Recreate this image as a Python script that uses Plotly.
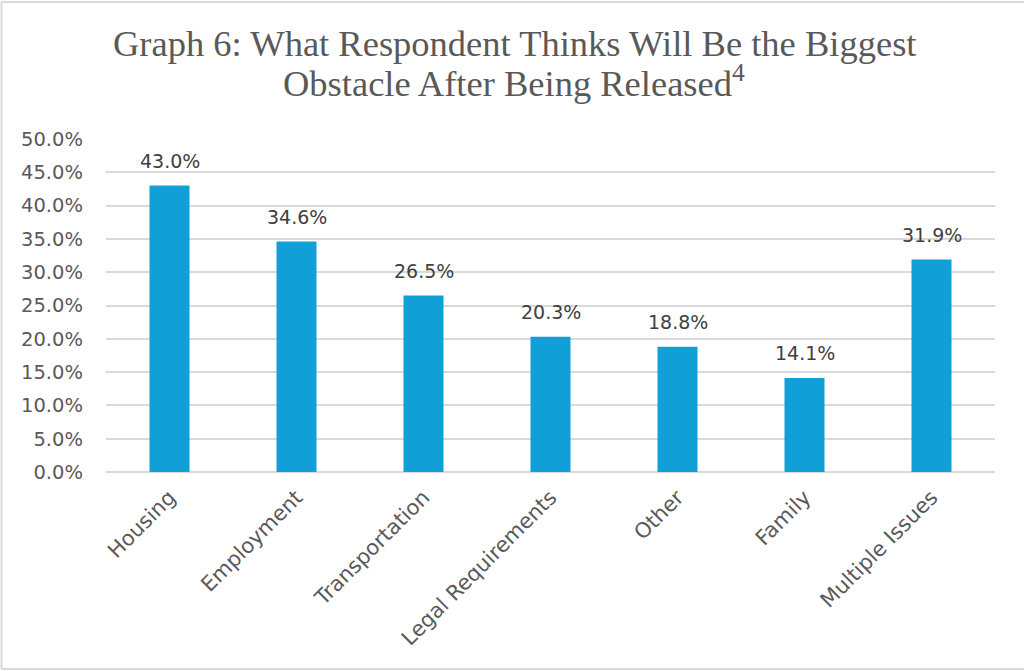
import plotly.graph_objects as go

categories = ["Housing", "Employment", "Transportation", "Legal Requirements", "Other", "Family", "Multiple Issues"]
values = [0.430, 0.346, 0.265, 0.203, 0.188, 0.141, 0.319]
y_ticks = [0, 0.05, 0.10, 0.15, 0.20, 0.25, 0.30, 0.35, 0.40, 0.45, 0.50]
title_lines = ["Graph 6: What Respondent Thinks Will Be the Biggest",
               "Obstacle After Being Released<sup>4</sup>"]

W, H = 1024, 671
L, R, T, B = 106, 29, 139, 199
pw, ph = W - L - R, H - T - B

SANS = "DejaVu Sans, Arial"
SERIF = "Liberation Serif, Times New Roman, serif"

fig = go.Figure()
fig.add_trace(go.Bar(
    x=categories, y=values,
    marker=dict(color="#109FD7", line=dict(width=0)),
    hoverinfo="skip",
))

for c, v in zip(categories, values):
    fig.add_annotation(x=c, y=v, text=f"{v*100:.1f}%", showarrow=False,
                       yshift=25, font=dict(family=SANS, size=19, color="#404040"))

# title lines
for line, yc in zip(title_lines, [43, 81]):
    fig.add_annotation(xref="paper", yref="paper", x=(W / 2 - L + 2) / pw,
                       y=1 + (T - yc) / ph, xanchor="center", yanchor="middle",
                       text=line, showarrow=False,
                       font=dict(family=SERIF, size=36.5, color="#595959"))

fig.update_layout(
    width=W, height=H, autosize=False,
    margin=dict(l=L, r=R, t=T, b=B),
    paper_bgcolor="white", plot_bgcolor="white",
    bargap=0.685,
    showlegend=False,
    xaxis=dict(
        tickangle=-45,
        tickfont=dict(family=SANS, size=21, color="#595959"),
        showgrid=False, showline=False, ticks="",
        ticklabelstandoff=8,
    ),
    yaxis=dict(
        range=[0, 0.5],
        tickvals=y_ticks,
        tickformat=".1%",
        tickfont=dict(family=SANS, size=19.5, color="#595959"),
        showgrid=True, gridcolor="#D9D9D9", gridwidth=1.5,
        zeroline=True, zerolinecolor="#D9D9D9", zerolinewidth=1.5,
        showline=False, ticks="",
        ticklabelstandoff=22,
    ),
)

# outer chart border (left, top, bottom; right edge lies beyond the frame)
border = dict(color="#D9D9D9", width=2)
x_left = (1.5 - L) / pw
x_right = (W + 5 - L) / pw
y_top = 1 + (T - 2) / ph
y_bot = -(B - 1 - (H - 670)) / ph
for x0, y0, x1, y1 in [(x_left, y_bot, x_left, y_top), (x_left, y_top, x_right, y_top), (x_left, y_bot, x_right, y_bot)]:
    fig.add_shape(type="line", xref="paper", yref="paper", x0=x0, y0=y0, x1=x1, y1=y1, line=border, layer="below")

fig.write_html("out.html", config={"displayModeBar": False},
               post_script="document.body.style.margin='0';document.body.style.overflow='hidden';")
